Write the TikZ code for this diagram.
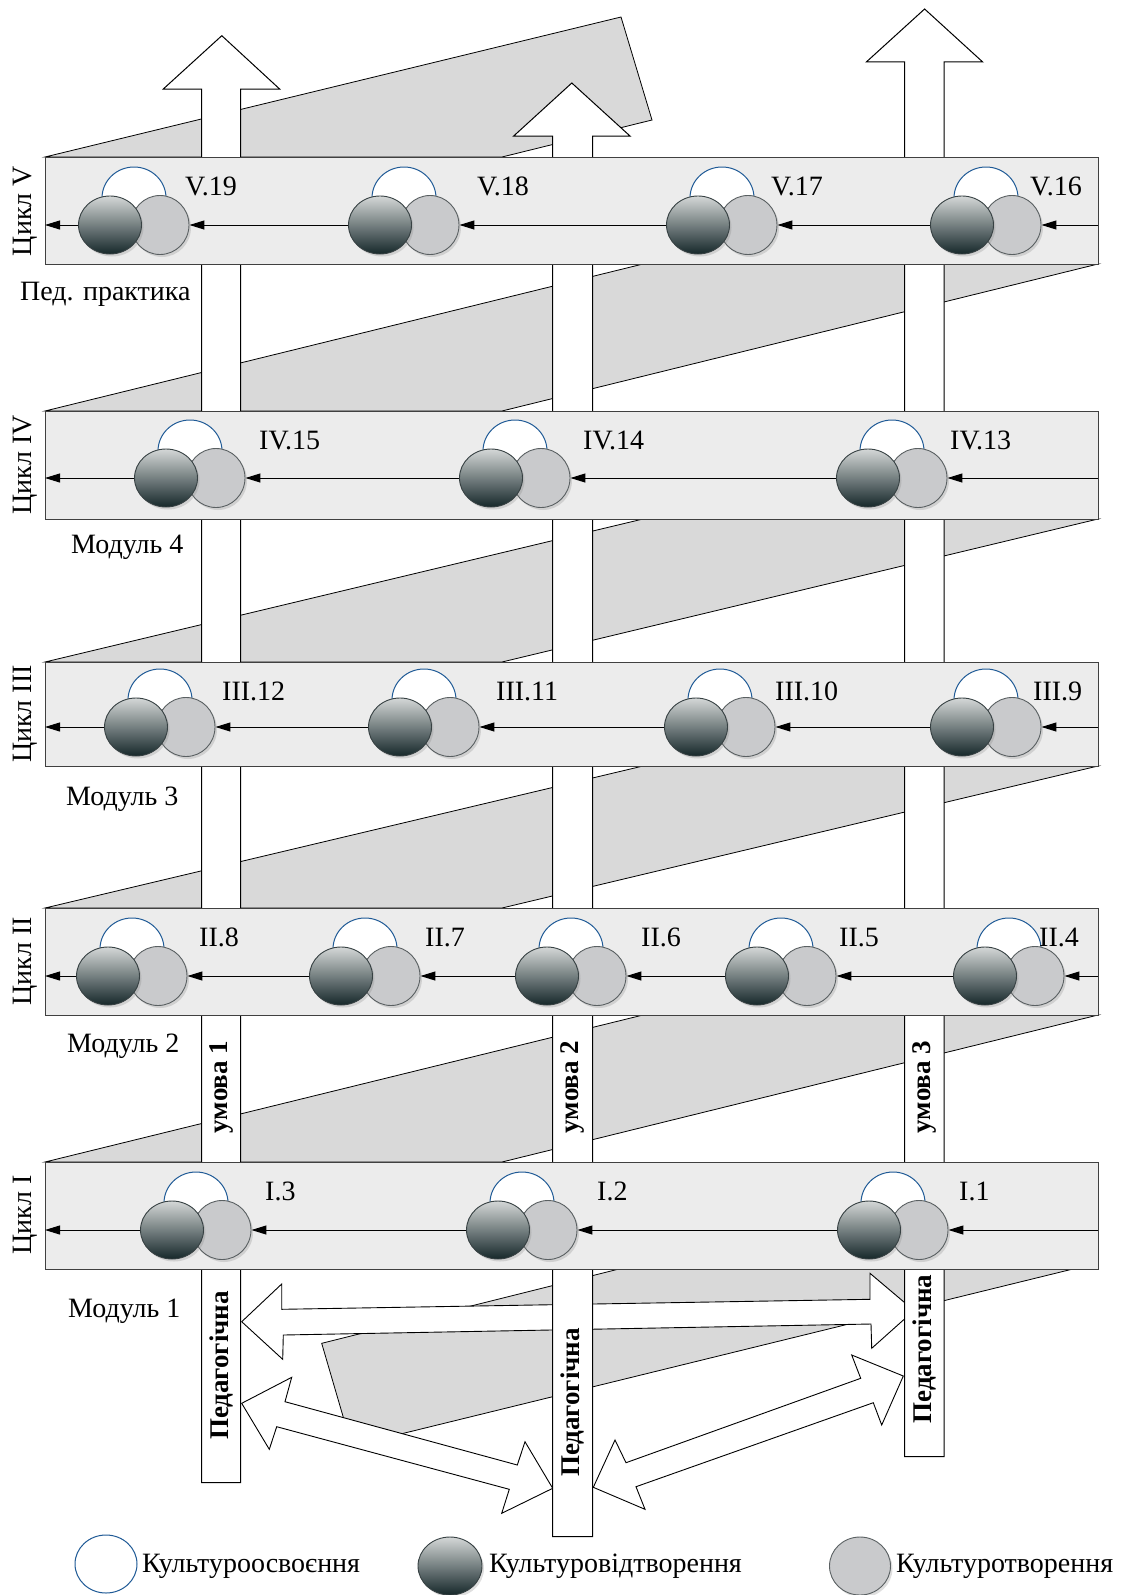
\documentclass[tikz,border=0pt]{standalone}
\usepackage{fontspec}
\setmainfont{Liberation Serif}
\usetikzlibrary{shapes.geometric,arrows.meta,shadows}
\definecolor{bandfill}{RGB}{236,236,236}
\definecolor{ribbonfill}{RGB}{217,217,217}
\definecolor{cblue}{RGB}{31,90,150}
\definecolor{lightfill}{RGB}{201,202,204}
\definecolor{lightedge}{RGB}{90,96,98}
\definecolor{darkedge}{RGB}{55,65,67}
\definecolor{darktop}{RGB}{212,215,215}
\definecolor{darkbot}{RGB}{22,40,42}
\tikzset{
 txt/.style={font=\fontsize{28}{32}\selectfont},
 lab/.style={txt, anchor=base west, inner sep=0pt},
 cyc/.style={txt, rotate=90, inner sep=0pt},
 ptxt/.style={font=\bfseries\fontsize{27}{30}\selectfont, rotate=90, inner sep=0pt},
 whitec/.style={ellipse, draw=cblue, line width=1pt, fill=white, minimum width=64pt, minimum height=62pt, inner sep=0pt},
 lightc/.style={ellipse, draw=lightedge, line width=0.9pt, fill=lightfill, minimum width=58pt, minimum height=59pt, inner sep=0pt,
   drop shadow={shadow xshift=2pt, shadow yshift=-2.5pt, opacity=0.25}},
 darkc/.style={ellipse, draw=darkedge, line width=0.9pt, top color=darktop, bottom color=darkbot, minimum width=63pt, minimum height=58pt, inner sep=0pt,
   drop shadow={shadow xshift=2pt, shadow yshift=-2.5pt, opacity=0.25}},
 flow/.style={draw=black, line width=1pt, -{Triangle[length=15pt,width=9pt]}},
 band/.style={draw=black!75, line width=1pt, fill=bandfill},
 ribbon/.style={draw=black, line width=0.8pt, fill=ribbonfill},
 pillar/.style={draw=black, line width=1pt, fill=white},
 barrow/.style={draw=black, line width=0.9pt, fill=white}
}
\newcommand{\procnode}[6]{%
 \node[whitec] (w#1) at (#2+24,#3-27) {};
 \node[lightc] (l#1) at (#2+50,#3) {};
 \node[darkc] (d#1) at (#2,#3) {};
 \node[lab] (t#1) at (#5,#6) {#4};
}
\begin{document}
\begin{tikzpicture}[x=1pt,y=-1pt]
\useasboundingbox (0,0) rectangle (1132,1595);
% ribbons
\draw[ribbon] (45,157) -- (621,17) -- (652,120) -- (502,157) -- cycle;
\draw[ribbon] (45,411) -- (643,264) -- (1098,264) -- (502,411) -- cycle;
\draw[ribbon] (45,662) -- (643,519) -- (1098,519) -- (502,662) -- cycle;
\draw[ribbon] (45,908) -- (643,766) -- (1098,766) -- (502,908) -- cycle;
\draw[ribbon] (45,1162) -- (643,1015) -- (1098,1015) -- (502,1162) -- cycle;
\draw[ribbon] (321.7,1343.3) -- (623,1268) -- (1077,1268) -- (351.7,1446) -- cycle;
% block double arrows
\draw[barrow] (241.7,1321.7) -- (281.7,1284) -- (281.7,1309.3) -- (870,1299.3) -- (870,1273.3) -- (914,1310.5) -- (871.7,1348.3) -- (871,1324) -- (283.3,1335) -- (282.7,1359.3) -- cycle;
\draw[barrow] (241.7,1403.3) -- (291.7,1377.3) -- (285,1401.7) -- (517.3,1465) -- (525,1441.7) -- (552.7,1488.3) -- (501.7,1513.3) -- (509.3,1489.3) -- (276.7,1426.7) -- (269.3,1449.3) -- cycle;
\draw[barrow] (593.3,1487.3) -- (615,1440) -- (626,1462.7) -- (860.7,1378.3) -- (851.7,1355) -- (903.3,1376) -- (881.7,1425) -- (873.3,1402.7) -- (636,1486.7) -- (645,1509.3) -- cycle;
% pillars
\draw[pillar] (201.7,1482.7) -- (201.7,89) -- (163.3,89) -- (221.8,35.7) -- (279.6,89) -- (240.7,89) -- (240.7,1482.7) -- cycle;
\draw[pillar] (552.7,1536.5) -- (552.7,136) -- (513.7,136) -- (571.8,83) -- (630,136) -- (592.5,136) -- (592.5,1536.5) -- cycle;
\draw[pillar] (904.5,1456.5) -- (904.5,62) -- (866.3,62) -- (924.6,9) -- (982.7,62) -- (944,62) -- (944,1456.5) -- cycle;
% bands
\draw[band] (45,157) rectangle (1098,264);
\draw[band] (45,411) rectangle (1098,519);
\draw[band] (45,662) rectangle (1098,766);
\draw[band] (45,908) rectangle (1098,1015);
\draw[band] (45,1162) rectangle (1098,1269);
% pillar texts
\node[ptxt] (u1) at (221.2,1087) {умова 1};
\node[ptxt] (u2) at (572.6,1087) {умова 2};
\node[ptxt] (u3) at (924.2,1087) {умова 3};
\node[ptxt] (p1) at (221.2,1365.5) {Педагогічна};
\node[ptxt] (p2) at (572.6,1402.5) {Педагогічна};
\node[ptxt] (p3) at (924.2,1349) {Педагогічна};
% band side labels
\node[cyc] (c5) at (25,211) {Цикл V};
\node[cyc] (c4) at (25,465) {Цикл IV};
\node[cyc] (c3) at (25,714) {Цикл III};
\node[cyc] (c2) at (25,961) {Цикл II};
\node[cyc] (c1) at (25,1215) {Цикл I};
\node[lab] (m5) at (20,300) {Пед. практика};
\node[lab] (m4) at (71,553) {Модуль 4};
\node[lab] (m3) at (66,805) {Модуль 3};
\node[lab] (m2) at (67,1052) {Модуль 2};
\node[lab] (m1) at (68,1317) {Модуль 1};
% process nodes
\procnode{19}{110}{225}{V.19}{185}{195}
\procnode{18}{380}{225}{V.18}{477}{195}
\procnode{17}{698}{225}{V.17}{771}{195}
\procnode{16}{962}{225}{V.16}{1030}{195}
\procnode{15}{166}{478}{IV.15}{259}{449}
\procnode{14}{491}{478}{IV.14}{583}{449}
\procnode{13}{868}{478}{IV.13}{950}{449}
\procnode{12}{136}{727}{III.12}{222}{700}
\procnode{11}{400}{727}{III.11}{496}{700}
\procnode{10}{696}{727}{III.10}{775}{700}
\procnode{9}{962}{727}{III.9}{1033}{700}
\procnode{8}{108}{976}{II.8}{199}{946}
\procnode{7}{341}{976}{II.7}{425}{946}
\procnode{6}{547}{976}{II.6}{641}{946}
\procnode{5}{757}{976}{II.5}{839}{946}
\procnode{4}{985}{976}{II.4}{1039}{946}
\procnode{3}{172}{1230}{I.3}{265}{1200}
\procnode{2}{498}{1230}{I.2}{597}{1200}
\procnode{1}{869}{1230}{I.1}{959}{1200}
% flow coordinates
\coordinate (in5) at (1098,225); \coordinate (out5) at (45,225);
\coordinate (in4) at (1098,478); \coordinate (out4) at (45,478);
\coordinate (in3) at (1098,727); \coordinate (out3) at (45,727);
\coordinate (in2) at (1098,976); \coordinate (out2) at (45,976);
\coordinate (in1) at (1098,1230); \coordinate (out1) at (45,1230);
% flows
\draw[flow] (in5) -- (l16.east);
\draw[flow] (d16.west) -- (l17.east);
\draw[flow] (d17.west) -- (l18.east);
\draw[flow] (d18.west) -- (l19.east);
\draw[flow] (d19.west) -- (out5);
\draw[flow] (in4) -- (l13.east);
\draw[flow] (d13.west) -- (l14.east);
\draw[flow] (d14.west) -- (l15.east);
\draw[flow] (d15.west) -- (out4);
\draw[flow] (in3) -- (l9.east);
\draw[flow] (d9.west) -- (l10.east);
\draw[flow] (d10.west) -- (l11.east);
\draw[flow] (d11.west) -- (l12.east);
\draw[flow] (d12.west) -- (out3);
\draw[flow] (in2) -- (l4.east);
\draw[flow] (d4.west) -- (l5.east);
\draw[flow] (d5.west) -- (l6.east);
\draw[flow] (d6.west) -- (l7.east);
\draw[flow] (d7.west) -- (l8.east);
\draw[flow] (d8.west) -- (out2);
\draw[flow] (in1) -- (l1.east);
\draw[flow] (d1.west) -- (l2.east);
\draw[flow] (d2.west) -- (l3.east);
\draw[flow] (d3.west) -- (out1);
% legend
\node[whitec, minimum width=62pt, minimum height=58pt] (lgw) at (106,1564) {};
\node[darkc, minimum width=64pt, minimum height=58pt] (lgd) at (450,1566) {};
\node[lightc, minimum width=61pt, minimum height=58pt] (lgl) at (860,1566) {};
\node[lab] (lgwt) at (142,1572) {Культуроосвоєння};
\node[lab] (lgdt) at (489,1572) {Культуровідтворення};
\node[lab] (lglt) at (896,1572) {Культуротворення};
\end{tikzpicture}
\end{document}
